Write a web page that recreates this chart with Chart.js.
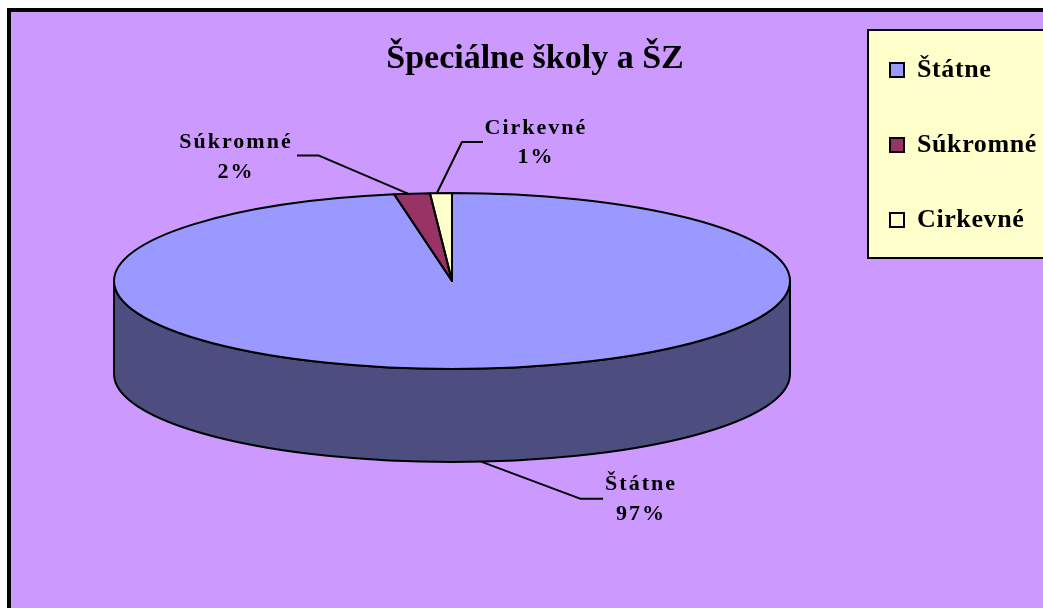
<!DOCTYPE html>
<html>
<head>
<meta charset="utf-8">
<style>
  html, body { margin: 0; padding: 0; background: #fff; overflow: hidden; }
  canvas { display: block; }
</style>
</head>
<body>
<canvas id="myChart" width="1043" height="608"></canvas>
<script src="https://cdn.jsdelivr.net/npm/chart.js@4/dist/chart.umd.js"></script>
<script>
// Data
let categories = ["Štátne", "Súkromné", "Cirkevné"];
let shares = [97.26, 1.7, 1.04];
let sliceColors = ["#9999FF", "#993366", "#FFFFCC"];
let chartTitle = "Špeciálne školy a ŠZ";

// Look of the flattened pie
let centerX = 452, centerY = 281;
let radiusX = 338, radiusY = 88, depth = 93;
let sideColor = "#4D4D80";
let fontName = '"Liberation Serif", "Times New Roman", serif';

// leader line start, elbow, end and text centre, relative to the slice's rim point
let labelOffsets = [
    { start: [0, 0], elbow: [99, 37], end: [122, 37], text: [160, 23] },
    { start: [-4, 0], elbow: [-93, -38], end: [-115, -38], text: [-176, -51] },
    { start: [-4, 0], elbow: [21, -51], end: [42, -51], text: [95, -65] }
];

let squash = radiusY / radiusX;

function ellipsePoint(angle, extraY) {
    return [centerX + radiusX * Math.cos(angle), centerY + radiusY * Math.sin(angle) + extraY];
}

// wedge outline in squashed space, so the stroke itself stays even
function traceArc(ctx, arc) {
    ctx.beginPath();
    ctx.ellipse(arc.x, arc.y, radiusX, radiusY, 0, arc.startAngle, arc.endAngle);
    ctx.lineTo(arc.x, arc.y);
    ctx.closePath();
}

let piePlugin = {
    id: "flatPie",
    afterInit(chart) {
        // legend is letter spaced in the original, the title is not
        let legend = chart.legend;
        let draw = legend.draw;
        legend.draw = function () {
            chart.ctx.letterSpacing = "0.6px";
            draw.call(legend);
            chart.ctx.letterSpacing = "0px";
        };
    },
    afterLayout(chart) {
        let area = chart.chartArea;
        area.left = 0; area.right = centerX * 2; area.width = centerX * 2;
        area.top = 0; area.bottom = centerY * 2; area.height = centerY * 2;

        let title = chart.titleBlock;
        title.left = 27; title.right = 1043; title.top = 39;

        let legend = chart.legend;
        legend.left = 841; legend.top = 8;
    },
    beforeDraw(chart) {
        let ctx = chart.ctx;
        ctx.save();
        // frame runs off the right and bottom of the picture
        ctx.fillStyle = "#CC99FF";
        ctx.strokeStyle = "#000";
        ctx.lineWidth = 4;
        ctx.fillRect(9, 10, 1100, 700);
        ctx.strokeRect(9, 10, 1100, 700);
        // legend box
        ctx.fillStyle = "#FFFFCC";
        ctx.lineWidth = 2;
        ctx.fillRect(868, 30, 300, 228);
        ctx.strokeRect(868, 30, 300, 228);
        ctx.restore();
    },
    beforeDatasetsDraw(chart) {
        let ctx = chart.ctx;
        let first = chart.getDatasetMeta(0).data[0];
        // side wall
        ctx.save();
        ctx.fillStyle = sideColor;
        ctx.strokeStyle = "#000";
        ctx.lineWidth = 2;
        ctx.beginPath();
        ctx.ellipse(first.x, first.y + depth, radiusX, radiusY, 0, 0, Math.PI);
        ctx.ellipse(first.x, first.y, radiusX, radiusY, 0, Math.PI, 0, true);
        ctx.closePath();
        ctx.fill();
        ctx.stroke();
        ctx.restore();

        // squash the pie the library draws
        ctx.save();
        ctx.translate(first.x, first.y);
        ctx.scale(1, squash);
        ctx.translate(-first.x, -first.y);
    },
    afterDatasetsDraw(chart) {
        let ctx = chart.ctx;
        ctx.restore();

        let arcs = chart.getDatasetMeta(0).data;
        ctx.save();
        ctx.strokeStyle = "#000";
        ctx.lineWidth = 2;
        ctx.lineJoin = "round";
        arcs.forEach((arc) => {
            traceArc(ctx, arc);
            ctx.stroke();
        });

        // data labels with leader lines
        let total = shares.reduce((a, b) => a + b, 0);
        ctx.fillStyle = "#000";
        ctx.textAlign = "center";
        ctx.textBaseline = "middle";
        ctx.font = "bold 22px " + fontName;
        ctx.letterSpacing = "2px";
        arcs.forEach((arc, i) => {
            let mid = (arc.startAngle + arc.endAngle) / 2;
            let onFront = Math.sin(mid) > 0;
            let rim = ellipsePoint(mid, onFront ? depth : 0);
            let off = labelOffsets[i];
            ctx.lineWidth = 2;
            ctx.beginPath();
            ctx.moveTo(rim[0] + off.start[0], rim[1] + off.start[1]);
            ctx.lineTo(rim[0] + off.elbow[0], rim[1] + off.elbow[1]);
            ctx.lineTo(rim[0] + off.end[0], rim[1] + off.end[1]);
            ctx.stroke();
            let tx = rim[0] + off.text[0];
            let ty = rim[1] + off.text[1];
            ctx.fillText(categories[i], tx, ty);
            ctx.fillText(Math.round(shares[i] / total * 100) + "%", tx, ty + 29.5);
        });
        ctx.restore();
    }
};

new Chart("myChart", {
    type: "pie",
    data: {
        labels: categories,
        datasets: [{
            data: shares,
            backgroundColor: sliceColors,
            borderWidth: 0,
            radius: radiusX,
            clip: false
        }]
    },
    options: {
        responsive: false,
        animation: false,
        plugins: {
            title: {
                display: true,
                text: chartTitle,
                color: "#000",
                padding: 0,
                font: { family: fontName, size: 34, weight: "bold" }
            },
            legend: {
                display: true,
                position: "right",
                align: "start",
                labels: {
                    color: "#000",
                    boxWidth: 14,
                    boxHeight: 14,
                    padding: 49,
                    font: { family: fontName, size: 26, weight: "bold" },
                    generateLabels(chart) {
                        let items = Chart.overrides.pie.plugins.legend.labels.generateLabels(chart);
                        return items.map((item) => ({ ...item, lineWidth: 2, strokeStyle: "#000" }));
                    }
                }
            },
            tooltip: { enabled: false }
        }
    },
    plugins: [piePlugin]
});
</script>
</body>
</html>
